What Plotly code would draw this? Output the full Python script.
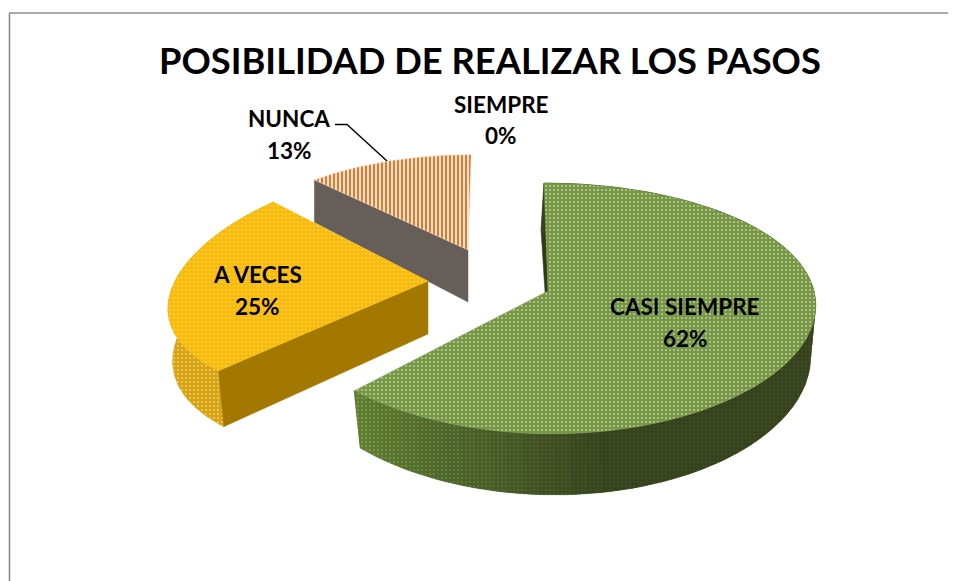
import numpy as np
import plotly.graph_objects as go

TITLE = "POSIBILIDAD DE REALIZAR LOS PASOS"
categories = ["CASI SIEMPRE", "A VECES", "NUNCA", "SIEMPRE"]
values = [62, 25, 13, 0]

# layout of each exploded slice in the picture: apex, radii, perspective, extrusion
GEOM = {
    "CASI SIEMPRE": dict(ax=548, ay=291, R=266, kx=.10, A=123, ky=.139, shear=4, d0=48, e=13, b=.98, lean=3),
    "A VECES": dict(ax=428, ay=281, R=253, kx=.18, A=119, ky=.047, shear=-14, d0=53, e=4, b=.985, lean=3),
    "NUNCA": dict(ax=468, ay=250, R=250, kx=.25, A=122, ky=.28, shear=-3, d0=52, e=14, b=1.0, lean=0),
}
LABELS = {
    "CASI SIEMPRE": (685, 306, 338),
    "A VECES": (257, 274, 306),
    "NUNCA": (289, 118, 150),
    "SIEMPRE": (501, 104, 135),
}


def point(g, theta, depth=False):
    X, Y = np.sin(theta), -np.cos(theta)
    x = g["ax"] + X * g["R"] / (1 - g["kx"] * Y) + g["shear"] * Y
    y = g["ay"] + Y * g["A"] / (1 - g["ky"] * Y)
    if depth:
        x = g["ax"] + (x - g["ax"]) * g["b"] + g["lean"] * Y
        y = y + g["d0"] + g["e"] * (Y if Y > 0 or g["e"] > 13 else 0)
    return x, y


def arc(g, t0, t1, depth=False, n=80):
    pts = [point(g, t, depth) for t in np.linspace(t0, t1, n)]
    return [p[0] for p in pts], [p[1] for p in pts]


def poly(xs, ys, color, pattern=None, lw=0.5):
    t = dict(x=list(xs) + [xs[0]], y=list(ys) + [ys[0]], mode="lines", fill="toself",
             fillcolor=color, line=dict(color=color, width=lw), hoverinfo="skip", showlegend=False)
    if pattern:
        t["fillpattern"] = pattern
    return go.Scatter(**t)


def dots(fg, bg, size=4, sol=.22):
    return dict(shape=".", fgcolor=fg, bgcolor=bg, size=size, solidity=sol, fillmode="replace")


def mix(c0, c1, f):
    return "rgb(%d,%d,%d)" % tuple(round(a + (b - a) * f) for a, b in zip(c0, c1))


def radial(g, theta):
    x1, y1 = point(g, theta)
    x2, y2 = point(g, theta, True)
    ax, ay = g["ax"], g["ay"]
    return [ax, x1, x2, ax], [ay, y1, y2, ay + g["d0"]]


def rim_base(g, t0, t1, color):
    xa, ya = arc(g, t0, t1, n=100)
    xb, yb = arc(g, t0, t1, True, n=100)
    return poly(xa + xb[::-1], ya + yb[::-1], color)


fig = go.Figure()
total = sum(values)
fr = np.cumsum([0] + values) / total * 2 * np.pi
ang = {c: (fr[i], fr[i + 1]) for i, c in enumerate(categories)}

# NUNCA (back slice)
g = GEOM["NUNCA"]
t0, t1 = ang["NUNCA"]
xs, ys = radial(g, t0)
fig.add_trace(poly(xs, ys, "#665e58"))
xa, ya = arc(g, t0, t1)
fig.add_trace(poly(xa + [g["ax"]], ya + [g["ay"]], "#f4c9a4",
                   dict(shape="|", fgcolor="#dd7a2c", bgcolor="#fbe5d2", size=4, solidity=.5, fillmode="replace")))

# A VECES
g = GEOM["A VECES"]
t0, t1 = ang["A VECES"]
xa, ya = arc(g, t0, t1, n=100)
xb, yb = arc(g, t0, t1, True, n=100)
fig.add_trace(poly(xa + xb[::-1], ya + yb[::-1], "#d8a312", dots("#efcf6a", "#d8a312")))
xs, ys = radial(g, t0)
fig.add_trace(poly(xs, ys, "#a37800"))
xa, ya = arc(g, t0, t1)
fig.add_trace(poly(xa + [g["ax"]], ya + [g["ay"]], "#fbbd0c", dots("#ffd257", "#f9ba08", 4, .2)))

# CASI SIEMPRE
g = GEOM["CASI SIEMPRE"]
t0, t1 = ang["CASI SIEMPRE"]
xs, ys = radial(g, t0)
fig.add_trace(poly(xs, ys, "#2f3a1b"))
fig.add_trace(rim_base(g, t0, t1, "#46562a"))
edges = np.linspace(t0, t1, 73)
light, dark = (94, 124, 50), (54, 66, 30)
for a, b in zip(edges[:-1], edges[1:]):
    f = min(1.0, (t1 - b) / (t1 - np.pi * 0.95))
    c = mix(light, dark, f)
    xa, ya = arc(g, a, b + .004, n=4)
    xb, yb = arc(g, a, b + .004, True, n=4)
    fig.add_trace(poly(xa + xb[::-1], ya + yb[::-1], c, dots(mix((150, 180, 90), (70, 85, 40), f), c, 4, .14), lw=0))
xa, ya = arc(g, t0, t1, n=160)
fig.add_trace(poly(xa + [g["ax"]], ya + [g["ay"]], "#7a9a48", dots("#b7cf86", "#76974a", 4, .22)))

# frame and leader line
frame = dict(color="#8c8c8c", width=1.6)
shapes = [
    dict(type="line", x0=9.5, x1=9.5, y0=13, y1=600, line=frame),
    dict(type="line", x0=9, x1=970, y0=13, y1=13, line=frame),
    dict(type="path", path="M 335 124.5 L 347 124.5 L 387 161", line=dict(color="black", width=1.4)),
]

annotations = [dict(x=490, y=60, text=f"<b>{TITLE}</b>", showarrow=False,
                    font=dict(family="Lato", size=36.3, color="black"))]
for c, v in zip(categories, values):
    x, y1, y2 = LABELS[c]
    for y, txt in ((y1, c), (y2, f"{v}%")):
        annotations.append(dict(x=x, y=y, text=f"<b>{txt}</b>", showarrow=False,
                                font=dict(family="Lato", size=22.5, color="black")))

# the page body has an 8px margin, so the axes are offset by the same amount
fig.update_layout(
    width=956, height=581, autosize=False, margin=dict(l=0, r=0, t=0, b=0),
    paper_bgcolor="white", plot_bgcolor="white", showlegend=False,
    xaxis=dict(range=[8, 964], visible=False, fixedrange=True),
    yaxis=dict(range=[589, 8], visible=False, fixedrange=True),
    shapes=shapes, annotations=annotations,
)
fig.write_html("out.html", config=dict(displayModeBar=False))
